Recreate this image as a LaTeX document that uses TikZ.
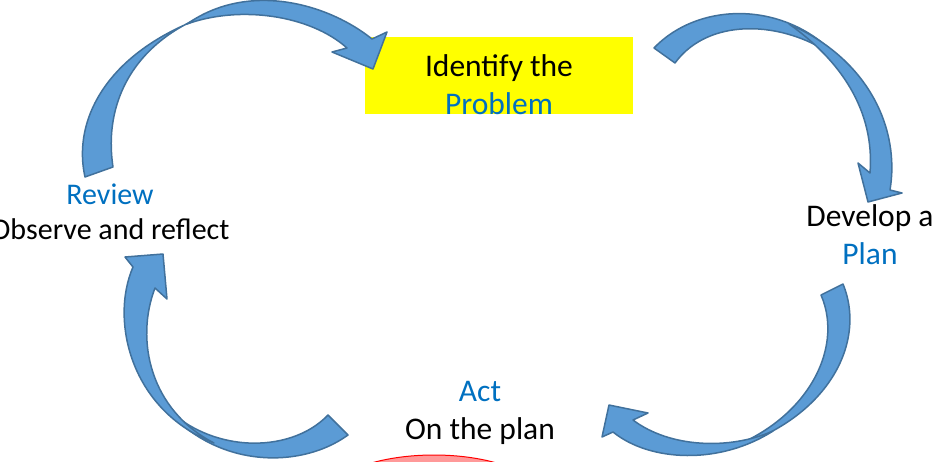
\documentclass[tikz,border=0pt]{standalone}
\usepackage{fontspec}
\setmainfont{Carlito}
\definecolor{arrowfill}{HTML}{5B9BD5}
\definecolor{arrowline}{HTML}{41719C}
\definecolor{txtblue}{HTML}{0070C0}
\definecolor{boxyellow}{RGB}{255,255,0}

\begin{document}
\begin{tikzpicture}[x=1pt,y=-1pt,
  band/.style={fill=arrowfill,draw=arrowline,line width=1.5pt,line join=round},
  cyctext/.style={align=center,anchor=base,inner sep=0pt,font=\fontsize{31.5}{38}\selectfont}]
\useasboundingbox (0,0) rectangle (935,461);
\clip (0,0) rectangle (935,461);

\node[fill=boxyellow,minimum width=268pt,minimum height=77pt,inner sep=0pt] (probbox) at (499,75.5) {};
\draw[red,fill=red!40,line width=1pt] (434,500) ellipse [x radius=110pt,y radius=45pt];

\node[cyctext] (problem) at (499,114) {Identify the\\\textcolor{txtblue}{Problem}};
\node[cyctext] (plan) at (870,264) {Develop a\\\textcolor{txtblue}{Plan}};
\node[cyctext] (act) at (480,439) {\textcolor{txtblue}{Act}\\On the plan};
\node[cyctext,font=\fontsize{30}{35}\selectfont] (review) at (110,239) {\textcolor{txtblue}{Review}\\Observe and reflect};

\draw[band] (85,177) .. controls (70,110) and (120,30) .. (258,2) .. controls (160,15) and (100,80) .. (113,167) -- cycle;
\draw[band] (187,24) .. controls (250,-20) and (330,5) .. (372,39) -- (387,32) -- (373,69) -- (332,52) -- (347,48) .. controls (310,15) and (240,5) .. (187,24) -- cycle;

\draw[band] (654,48) .. controls (700,0) and (790,0) .. (842,62) .. controls (790,20) and (710,15) .. (675,63) -- cycle;
\draw[band] (789,24) .. controls (870,60) and (900,130) .. (890,190) -- (902,193) -- (868,202) -- (858,163) -- (870,173) .. controls (875,110) and (840,60) .. (789,24) -- cycle;

\draw[band] (843,284) .. controls (868,345) and (825,425) .. (718,452) .. controls (805,425) and (845,350) .. (821,295) -- cycle;
\draw[band] (773,431) .. controls (720,465) and (650,462) .. (613,432) -- (602,437) -- (609,405) -- (648,413) -- (633,420) .. controls (670,448) and (730,450) .. (773,431) -- cycle;

\draw[band] (348,435) .. controls (300,470) and (210,470) .. (157,398) .. controls (205,455) and (290,455) .. (328,415) -- cycle;
\draw[band] (214,443) .. controls (130,410) and (110,320) .. (133,267) -- (125,257) -- (163,254) -- (167,299) -- (155,288) .. controls (135,340) and (150,410) .. (214,443) -- cycle;
\end{tikzpicture}
\end{document}
